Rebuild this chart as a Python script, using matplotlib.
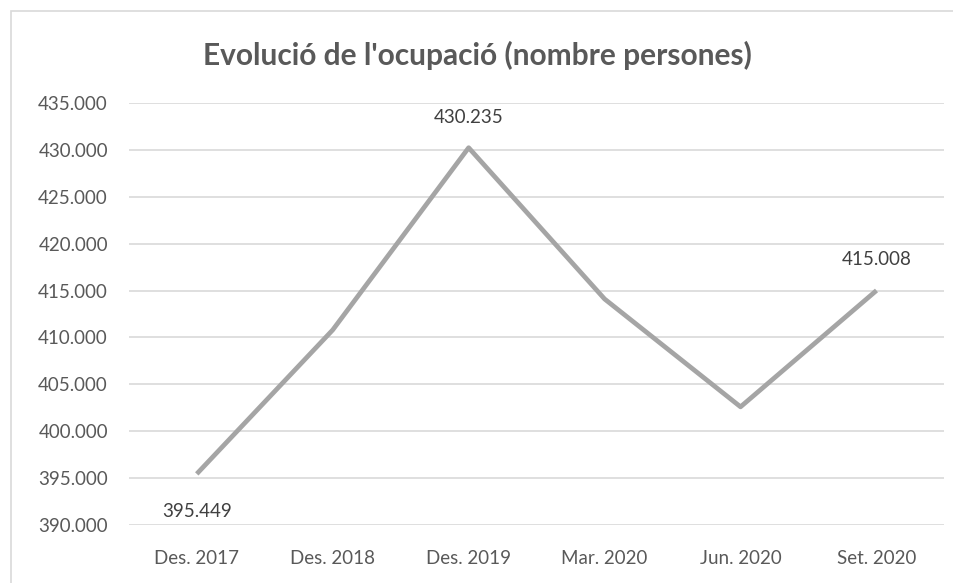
import matplotlib.pyplot as plt
from matplotlib.patches import Rectangle
from matplotlib.ticker import FuncFormatter

periodes = ['Des. 2017', 'Des. 2018', 'Des. 2019', 'Mar. 2020', 'Jun. 2020', 'Set. 2020']
ocupacio = [395449, 410800, 430235, 414100, 402600, 415008]
# which points carry a label, and where (above/below)
etiquetes = {0: 'below', 2: 'above', 5: 'above'}

plt.rcParams['font.family'] = ['Lato', 'DejaVu Sans']

fig = plt.figure(figsize=(9.54, 5.83), dpi=100)
ax = fig.add_axes([0.135, 0.0995, 0.855, 0.7238])

# outer chart frame
fig.patches.append(Rectangle((11 / 954, -0.01), 1.0, 1 - 11 / 583 + 0.01,
                             transform=fig.transFigure, fill=False,
                             edgecolor='#D9D9D9', linewidth=1.2))

x = list(range(len(periodes)))
ax.plot(x, ocupacio, color='#A5A5A5', linewidth=3.4, solid_capstyle='butt', zorder=3)

def fmt(v):
    return f'{v:,.0f}'.replace(',', '.')

for i, pos in etiquetes.items():
    off = -27 if pos == 'below' else 22
    ax.annotate(fmt(ocupacio[i]), (x[i], ocupacio[i]), xytext=(0, off),
                textcoords='offset points', ha='center', va='center',
                fontsize=13.5, color='#404040')

ax.set_xlim(-0.5, len(periodes) - 0.5)
ax.set_ylim(390000, 435000)
ax.set_yticks(range(390000, 435001, 5000))
ax.yaxis.set_major_formatter(FuncFormatter(lambda v, p: fmt(v)))
ax.set_xticks(x)
ax.set_xticklabels(periodes)
ax.tick_params(axis='both', length=0, labelsize=13.5, labelcolor='#595959')
ax.tick_params(axis='x', pad=18)
ax.tick_params(axis='y', pad=15)
ax.grid(axis='y', color='#D9D9D9', linewidth=1.2)
ax.set_axisbelow(True)
for s in ax.spines.values():
    s.set_visible(False)

fig.text(0.5, 1 - 55 / 583, "Evolució de l'ocupació (nombre persones)",
         ha='center', va='center', fontsize=21.5, fontweight='bold', color='#595959')

fig.savefig('out.png', dpi=100)
